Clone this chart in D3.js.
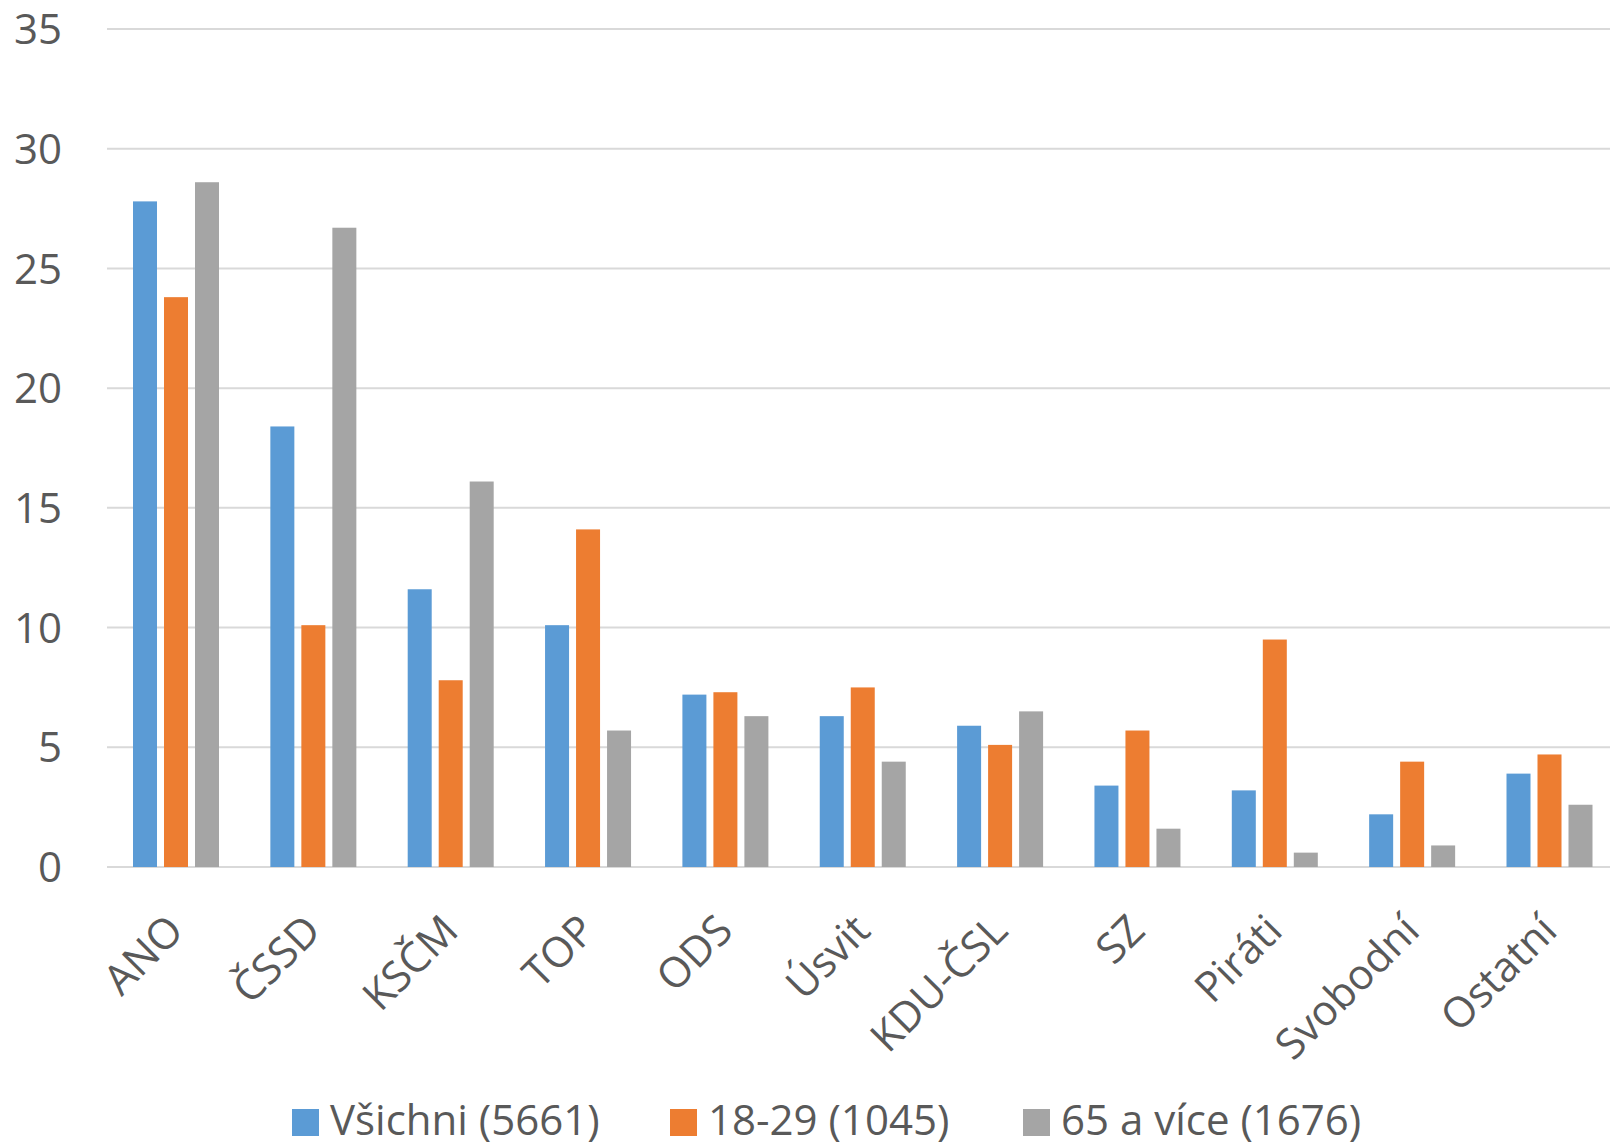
<!DOCTYPE html>
<html>
<head>
<meta charset="utf-8">
<script src="https://cdn.jsdelivr.net/npm/d3@7"></script>
<style>
  body { margin: 0; background: #fff; }
  text { font-family: "Open Sans", sans-serif; fill: #595959; }
</style>
</head>
<body>
<div id="chart"></div>
<script>
// data
const parties = ['ANO', 'ČSSD', 'KSČM', 'TOP', 'ODS', 'Úsvit', 'KDU-ČSL', 'SZ', 'Piráti', 'Svobodní', 'Ostatní'];
const seriesNames = ['Všichni (5661)', '18-29 (1045)', '65 a více (1676)'];
const vsichni = [27.8, 18.4, 11.6, 10.1, 7.2, 6.3, 5.9, 3.4, 3.2, 2.2, 3.9];
const mladi = [23.8, 10.1, 7.8, 14.1, 7.3, 7.5, 5.1, 5.7, 9.5, 4.4, 4.7];
const starsi = [28.6, 26.7, 16.1, 5.7, 6.3, 4.4, 6.5, 1.6, 0.6, 0.9, 2.6];
const yTicks = [0, 5, 10, 15, 20, 25, 30, 35];
const colors = ['#5B9BD5', '#ED7D31', '#A5A5A5'];

const draw = () => {
    const seriesValues = [vsichni, mladi, starsi];
    const dataSet = parties.map((party, i) => ({
        party,
        values: seriesNames.map((name, s) => ({ name, value: seriesValues[s][i], color: colors[s] }))
    }));

    // dimensions
    const dimensions = { width: 1610, height: 1147, left: 107, top: 29, bottom: 867, step: 137.35 };

    const svg = d3.select('#chart')
        .append('svg')
        .attr('width', dimensions.width)
        .attr('height', dimensions.height);

    // scales
    const xScale = d3.scaleBand()
        .domain(parties)
        .range([dimensions.left, dimensions.left + dimensions.step * parties.length]);

    const xSub = d3.scaleBand()
        .domain(seriesNames)
        .range([26, 112])
        .paddingInner(7 / 31);

    const yScale = d3.scaleLinear()
        .domain([0, 35])
        .range([dimensions.bottom, dimensions.top]);

    // gridlines
    svg.append('g')
        .selectAll('line')
        .data(yTicks)
        .join('line')
        .attr('x1', dimensions.left)
        .attr('x2', dimensions.width)
        .attr('y1', d => yScale(d))
        .attr('y2', d => yScale(d))
        .attr('stroke', '#D9D9D9')
        .attr('stroke-width', 2);

    // y axis labels
    const yAxis = d3.axisLeft(yScale).tickValues(yTicks).tickSize(0).tickPadding(0);
    const yAxisGroup = svg.append('g')
        .attr('transform', 'translate(62,0)')
        .call(yAxis);
    yAxisGroup.select('.domain').remove();
    yAxisGroup.selectAll('text')
        .attr('font-size', 42)
        .attr('font-family', '"Open Sans", sans-serif')
        .attr('fill', '#595959')
        .attr('dy', '0.35em');

    // bars
    svg.append('g')
        .selectAll('g')
        .data(dataSet)
        .join('g')
        .attr('transform', d => `translate(${xScale(d.party)},0)`)
        .selectAll('rect')
        .data(d => d.values)
        .join('rect')
        .attr('x', d => xSub(d.name))
        .attr('width', xSub.bandwidth())
        .attr('y', d => yScale(d.value))
        .attr('height', d => yScale(0) - yScale(d.value))
        .attr('fill', d => d.color);

    // x axis labels
    svg.append('g')
        .selectAll('text')
        .data(parties)
        .join('text')
        .attr('transform', d => `translate(${xScale(d) + xScale.bandwidth() / 2 + 10},${dimensions.bottom + 66}) rotate(-45)`)
        .attr('text-anchor', 'end')
        .attr('font-size', 42)
        .text(d => d);

    // legend
    const legendX = [292, 670, 1023];
    const legend = svg.append('g')
        .selectAll('g')
        .data(seriesNames)
        .join('g')
        .attr('transform', (d, i) => `translate(${legendX[i]},1109)`);

    legend.append('rect')
        .attr('width', 27)
        .attr('height', 27)
        .attr('fill', (d, i) => colors[i]);

    legend.append('text')
        .attr('x', 38)
        .attr('y', 26)
        .attr('font-size', 42)
        .text(d => d);
}

draw();
</script>
</body>
</html>
